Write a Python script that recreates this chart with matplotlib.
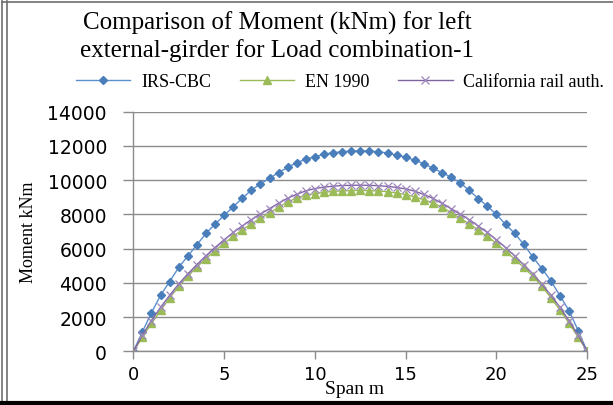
"""Moment envelope comparison for the left external girder, load combination 1"""

import matplotlib

matplotlib.use("Agg")
import matplotlib.pyplot as plt
from matplotlib.lines import Line2D

# span positions along the girder (m)
SPAN = [
    0, 0.5, 1, 1.5, 2, 2.5, 3, 3.5, 4, 4.5, 5, 5.5, 6, 6.5, 7, 7.5, 8, 8.5, 9,
    9.5, 10, 10.5, 11, 11.5, 12, 12.5, 13, 13.5, 14, 14.5, 15, 15.5, 16, 16.5,
    17, 17.5, 18, 18.5, 19, 19.5, 20, 20.5, 21, 21.5, 22, 22.5, 23, 23.5, 24,
    24.5, 25,
]

# moments (kNm)
IRS_CBC = [
    0, 1150, 2270, 3280, 4080, 4910, 5570, 6230, 6890, 7440, 7940, 8450, 8950,
    9420, 9790, 10110, 10450, 10750, 11030, 11220, 11380, 11510, 11610, 11660,
    11700, 11720, 11700, 11660, 11590, 11460, 11350, 11160, 10970, 10690, 10450,
    10170, 9850, 9400, 8930, 8480, 8000, 7420, 6900, 6260, 5520, 4840, 4120,
    3250, 2380, 1220, 0,
]
EN_1990 = [
    0, 830, 1640, 2400, 3130, 3800, 4390, 4930, 5420, 5870, 6310, 6720, 7100,
    7450, 7780, 8080, 8430, 8730, 8960, 9120, 9220, 9290, 9350, 9370, 9390,
    9410, 9390, 9370, 9330, 9250, 9160, 9020, 8860, 8670, 8430, 8100, 7780,
    7450, 7100, 6720, 6310, 5850, 5400, 4910, 4390, 3810, 3130, 2420, 1650,
    830, 0,
]
CALIFORNIA = [
    0, 960, 1800, 2580, 3280, 3940, 4530, 5070, 5590, 6070, 6520, 6950, 7330,
    7700, 8030, 8340, 8660, 8950, 9180, 9380, 9510, 9600, 9650, 9690, 9700,
    9710, 9700, 9680, 9640, 9580, 9490, 9360, 9170, 8940, 8650, 8340, 8020,
    7700, 7320, 6950, 6520, 6070, 5580, 5060, 4530, 3930, 3280, 2580, 1780,
    950, 0,
]

LABELS = ["IRS-CBC", "EN 1990", "California rail auth."]
TITLE = "Comparison of Moment (kNm) for left\nexternal-girder for Load combination-1"
X_LABEL = "Span m"
Y_LABEL = "Moment kNm"
X_TICKS = [0, 5, 10, 15, 20, 25]
Y_TICKS = [0, 2000, 4000, 6000, 8000, 10000, 12000, 14000]

SERIF = "Liberation Serif"
SANS = "DejaVu Sans"
GRID_GREY = "#8c8c8c"


fig = plt.figure(figsize=(6.13, 4.06), dpi=100)
ax = fig.add_axes([0.2175, 0.1318, 0.7405, 0.5906])

# series styles, excel 2007 defaults
styles = [
    dict(color="#5b8fd0", marker="D", markersize=4.5, mfc="#4a7ebb", mec="#4a7ebb"),
    dict(color="#9bbb59", marker="^", markersize=5.2, mfc="#9bbb59", mec="#9bbb59"),
    dict(color="#8064a2", marker="x", markersize=5.5, mfc="none", mec="#9d86bd", mew=0.9),
]

handles = []
for values, label, style in zip([IRS_CBC, EN_1990, CALIFORNIA], LABELS, styles):
    (line,) = ax.plot(SPAN, values, linewidth=1.0, label=label, **style)
    handles.append(line)

ax.set_xlim(0, 25)
ax.set_ylim(0, 14000)
ax.set_xticks(X_TICKS)
ax.set_yticks(Y_TICKS)
ax.set_xticklabels([str(t) for t in X_TICKS], family=SANS, fontsize=13)
ax.set_yticklabels([str(t) for t in Y_TICKS], family=SANS, fontsize=13.5)
ax.xaxis.set_tick_params(direction="out", length=6, width=1.0, color=GRID_GREY, pad=4)
ax.yaxis.set_tick_params(direction="out", length=7, width=1.0, color=GRID_GREY, pad=12)

# horizontal gridlines only
ax.yaxis.grid(True, color=GRID_GREY, linewidth=1.0)
ax.set_axisbelow(True)
for side in ["top", "right"]:
    ax.spines[side].set_visible(False)
for side in ["left", "bottom"]:
    ax.spines[side].set_color(GRID_GREY)
    ax.spines[side].set_linewidth(1.0)

ax.set_xlabel(X_LABEL, family=SERIF, fontsize=14)
ax.xaxis.set_label_coords(0.488, -0.118)
ax.set_ylabel(Y_LABEL, family=SERIF, fontsize=13)
ax.yaxis.set_label_coords(-0.212, 0.5)

fig.text(0.452, 0.91, TITLE, ha="center", va="center", family=SERIF,
         fontsize=18, linespacing=1.2)

fig.legend(handles=handles, labels=LABELS, loc="center", ncol=3,
           bbox_to_anchor=(0.555, 0.796), frameon=False, handlelength=3.0,
           columnspacing=1.6, handletextpad=0.6, prop=dict(family=SERIF, size=13))

# outer picture frame
fig.add_artist(Line2D([0.004, 0.004], [0.0, 0.995], color="#6e6e6e", linewidth=1.2))
fig.add_artist(Line2D([0.012, 0.012], [0.0, 0.995], color="#6e6e6e", linewidth=1.2))
fig.add_artist(Line2D([0.004, 1.0], [0.993, 0.993], color="#6e6e6e", linewidth=1.2))
fig.add_artist(Line2D([0.0, 1.0], [0.005, 0.005], color="black", linewidth=3.0))

fig.savefig("out.png", dpi=100)
